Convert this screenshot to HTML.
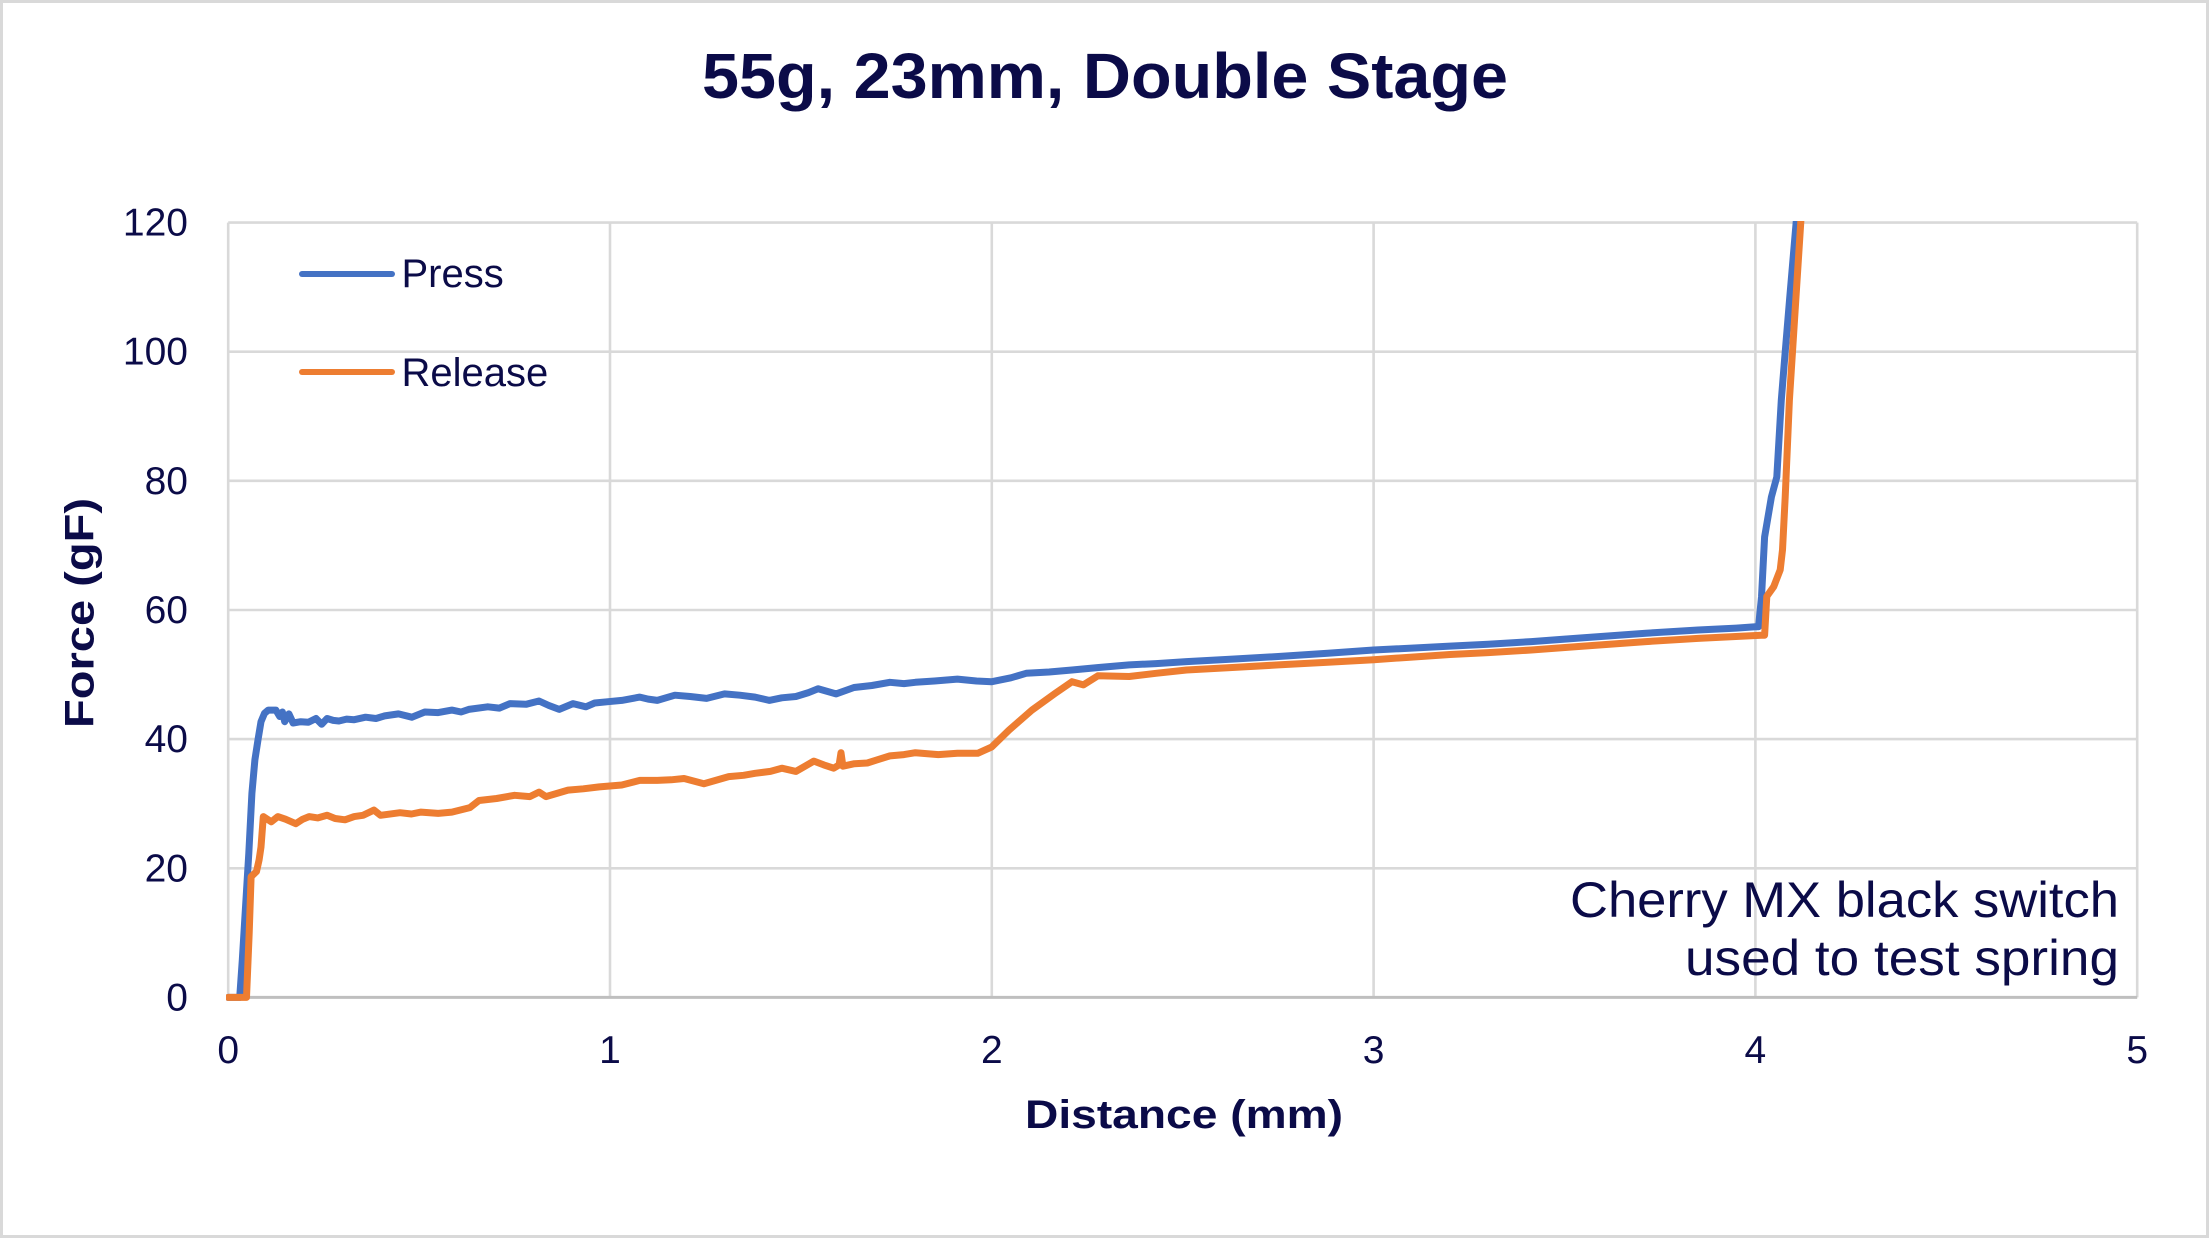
<!DOCTYPE html>
<html>
<head>
<meta charset="utf-8">
<style>
  html, body { margin:0; padding:0; background:#ffffff; }
  body { width:2209px; height:1238px; overflow:hidden; }
  svg { display:block; }
  text { font-family:"Liberation Sans", Arial, sans-serif; fill:#0b0b48; }
</style>
</head>
<body>
<svg width="2209" height="1238" viewBox="0 0 2209 1238" xmlns="http://www.w3.org/2000/svg">
  <defs>
    <clipPath id="plotclip">
      <rect x="226" y="221" width="1912" height="780"/>
    </clipPath>
  </defs>
  <rect x="0" y="0" width="2209" height="1238" fill="#ffffff"/>
  <rect x="1.5" y="1.5" width="2206" height="1235" fill="none" stroke="#d9d9d9" stroke-width="3"/>

  <!-- Title -->
  <text x="1105" y="98" font-size="64" font-weight="bold" text-anchor="middle" textLength="806" lengthAdjust="spacingAndGlyphs">55g, 23mm, Double Stage</text>

  <!-- Gridlines -->
  <g stroke="#d9d9d9" stroke-width="2.6" fill="none">
    <line x1="228.2" y1="222.6" x2="2137.2" y2="222.6"/>
    <line x1="228.2" y1="351.7" x2="2137.2" y2="351.7"/>
    <line x1="228.2" y1="480.8" x2="2137.2" y2="480.8"/>
    <line x1="228.2" y1="610.0" x2="2137.2" y2="610.0"/>
    <line x1="228.2" y1="739.1" x2="2137.2" y2="739.1"/>
    <line x1="228.2" y1="868.3" x2="2137.2" y2="868.3"/>
    <line x1="228.2" y1="222.6" x2="228.2" y2="997.4"/>
    <line x1="610.0" y1="222.6" x2="610.0" y2="997.4"/>
    <line x1="991.8" y1="222.6" x2="991.8" y2="997.4"/>
    <line x1="1373.6" y1="222.6" x2="1373.6" y2="997.4"/>
    <line x1="1755.4" y1="222.6" x2="1755.4" y2="997.4"/>
    <line x1="2137.2" y1="222.6" x2="2137.2" y2="997.4"/>
  </g>
  <line x1="228.2" y1="997.4" x2="2137.2" y2="997.4" stroke="#bfbfbf" stroke-width="3"/>

  <!-- Y tick labels -->
  <g font-size="39" text-anchor="end">
    <text x="188" y="235.6">120</text>
    <text x="188" y="364.7">100</text>
    <text x="188" y="493.8">80</text>
    <text x="188" y="623.0">60</text>
    <text x="188" y="752.1">40</text>
    <text x="188" y="881.3">20</text>
    <text x="188" y="1010.4">0</text>
  </g>

  <!-- X tick labels -->
  <g font-size="39" text-anchor="middle">
    <text x="228.2" y="1063">0</text>
    <text x="610.0" y="1063">1</text>
    <text x="991.8" y="1063">2</text>
    <text x="1373.6" y="1063">3</text>
    <text x="1755.4" y="1063">4</text>
    <text x="2137.2" y="1063">5</text>
  </g>

  <!-- Axis titles -->
  <text transform="translate(93.5,613) rotate(-90)" font-size="41" font-weight="bold" text-anchor="middle" textLength="230" lengthAdjust="spacingAndGlyphs">Force (gF)</text>
  <text x="1184" y="1128" font-size="40" font-weight="bold" text-anchor="middle" textLength="318" lengthAdjust="spacingAndGlyphs">Distance (mm)</text>

  <!-- Series -->
  <g clip-path="url(#plotclip)" fill="none" stroke-linejoin="round" stroke-linecap="round">
    <polyline stroke="#4472c4" stroke-width="7" points="
      228.2,997.4 239.7,997.4 242.3,960.0 248.8,853.4 251.9,793.4 254.9,759.8 258.0,739.8 261.0,721.7 264.5,713.3 268.3,710.1
      275.9,710.1 279.7,716.5 282.4,712.0 284.7,721.7 288.9,713.9 293.1,723.0 300.7,721.7 308.4,722.3 316.0,718.5 321.7,724.3
      327.1,718.5 333.2,720.4 338.9,721.0 346.6,719.1 354.2,719.7 365.6,717.2 376.0,718.5 384.7,715.9 398.5,713.9 411.8,717.2
      424.8,712.0 438.2,712.6 451.9,710.1 461.1,712.0 468.7,709.4 487.8,706.8 499.3,708.1 510.0,703.6 526.0,704.3 539.0,701.0
      548.9,705.5 559.2,709.4 573.0,703.6 585.9,706.8 594.7,703.0 608.1,701.7 621.8,700.4 639.8,697.1 648.2,699.1 657.3,700.4
      674.9,695.2 690.2,696.5 706.6,698.4 724.5,693.9 739.8,695.2 755.1,697.1 769.2,700.4 781.8,697.8 795.9,696.5 808.5,692.6
      818.1,688.8 836.0,693.9 854.0,687.5 871.9,685.5 889.9,682.3 904.0,683.6 915.4,682.3 934.5,681.0 957.4,679.1 976.5,681.0
      991.8,681.7 1010.9,677.8 1026.2,673.3 1049.1,672.0 1072.0,670.0 1098.7,667.5 1129.2,664.9 1156.0,663.6 1186.5,661.6 1232.3,659.1
      1278.2,656.5 1327.8,653.2 1373.6,650.0 1411.8,648.1 1450.0,646.1 1488.1,644.2 1531.3,641.6 1583.6,637.7 1645.8,633.2 1698.1,630.0
      1736.3,628.1 1755.4,626.8 1758.5,626.8 1761.5,597.1 1764.6,537.0 1771.4,497.0 1776.8,477.0 1781.3,400.1 1784.8,356.9 1789.8,296.8
      1796.2,221.9 1799.3,170.9"/>
    <polyline stroke="#ed7d31" stroke-width="7" points="
      228.2,997.4 246.5,997.4 249.2,932.8 251.1,876.7 256.5,871.5 259.1,859.9 261.0,847.0 263.3,816.6 271.3,821.8 277.8,816.6
      285.5,819.2 295.8,823.7 302.7,819.2 309.1,816.6 317.9,817.9 327.1,815.3 335.1,818.5 345.0,819.8 354.2,816.6 363.0,815.3
      374.0,810.1 380.5,815.3 400.0,812.7 411.5,814.0 421.0,812.1 438.2,813.4 451.9,812.1 469.9,807.6 479.0,800.5 496.6,798.5
      514.6,795.3 529.8,796.6 539.0,792.1 545.9,796.6 568.0,790.1 583.3,788.8 599.3,786.9 621.8,785.0 639.8,780.4 657.3,780.4
      671.1,779.8 684.1,778.5 703.9,783.7 728.7,776.6 743.6,775.3 755.1,773.3 770.4,771.4 781.8,768.2 795.9,771.4 813.9,761.1
      823.8,764.9 833.7,768.2 839.1,764.9 841.0,752.7 842.9,766.2 854.4,763.7 867.3,763.0 877.3,759.8 889.9,755.9 904.0,754.6
      915.4,752.7 938.3,754.6 957.4,753.3 977.7,753.3 991.8,746.9 1009.0,730.1 1031.9,710.1 1055.2,693.3 1072.0,681.7 1083.4,684.9
      1097.9,675.8 1129.2,676.5 1156.0,673.3 1186.5,670.0 1232.3,667.5 1278.2,664.9 1327.8,662.3 1373.6,659.7 1411.8,657.1 1450.0,654.5
      1488.1,652.6 1531.3,650.0 1583.6,646.1 1645.8,641.6 1698.1,638.4 1761.1,635.2 1764.6,635.2 1766.8,596.4 1773.7,586.7 1780.2,569.9
      1782.5,549.9 1785.2,497.0 1789.4,400.1 1796.2,293.6 1800.8,221.9 1803.1,170.9"/>
  </g>

  <!-- Legend -->
  <line x1="302" y1="274" x2="392" y2="274" stroke="#4472c4" stroke-width="6" stroke-linecap="round"/>
  <text x="401.5" y="287" font-size="40">Press</text>
  <line x1="302" y1="372" x2="392" y2="372" stroke="#ed7d31" stroke-width="6" stroke-linecap="round"/>
  <text x="401.5" y="386" font-size="40">Release</text>

  <!-- Annotation -->
  <text x="2119" y="917" font-size="50" text-anchor="end" textLength="549" lengthAdjust="spacingAndGlyphs">Cherry MX black switch</text>
  <text x="2119" y="975" font-size="50" text-anchor="end" textLength="434" lengthAdjust="spacingAndGlyphs">used to test spring</text>
</svg>
</body>
</html>
